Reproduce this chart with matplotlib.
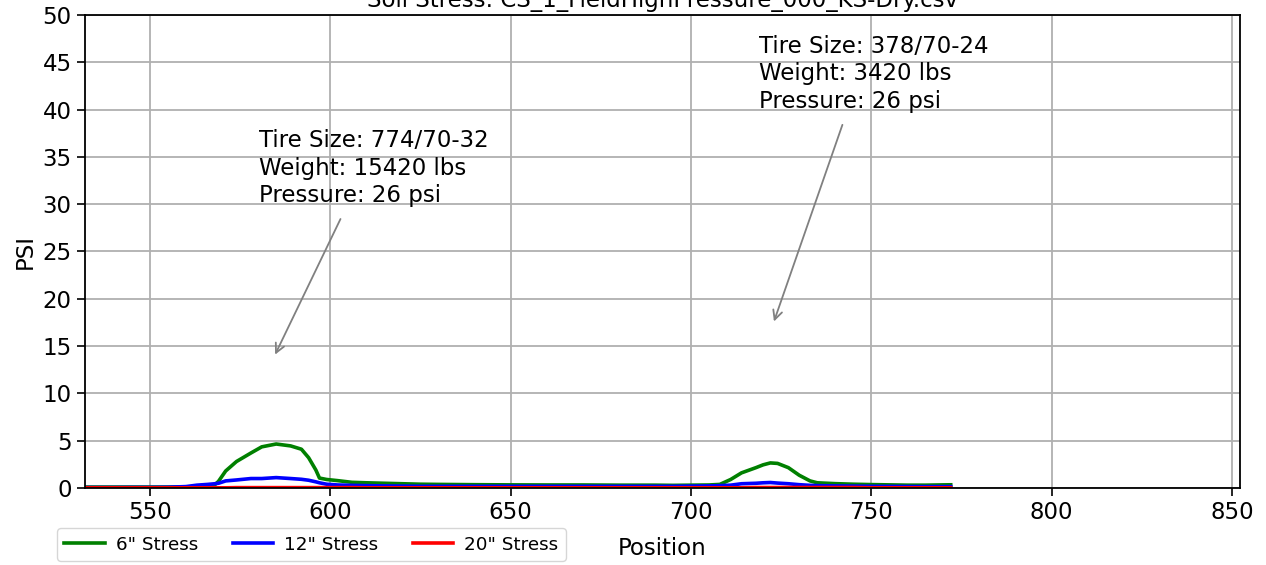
import matplotlib
matplotlib.use("Agg")
import matplotlib.pyplot as plt

title = "Soil Stress: CS_1_FieldHighPressure_000_KS-Dry.csv"

position = [532, 536, 540, 545, 550, 555, 560, 563, 566, 568, 569, 571, 574, 578,
            581, 585, 589, 592, 594, 596, 597, 599, 602, 606, 610, 615, 620, 625,
            630, 640, 650, 660, 670, 680, 690, 695, 700, 705, 708, 711, 714, 718,
            720, 722, 724, 727, 730, 733, 735, 740, 745, 750, 755, 760, 765, 770, 772]

stress_6 = [0.10, 0.10, 0.10, 0.10, 0.10, 0.10, 0.12, 0.15, 0.20, 0.35, 0.70, 1.80, 2.80, 3.70,
            4.35, 4.65, 4.45, 4.10, 3.20, 1.90, 1.05, 0.90, 0.78, 0.60, 0.55, 0.50, 0.45, 0.40,
            0.38, 0.35, 0.33, 0.32, 0.32, 0.30, 0.30, 0.28, 0.30, 0.32, 0.38, 0.90, 1.60, 2.15,
            2.45, 2.65, 2.60, 2.15, 1.35, 0.75, 0.55, 0.46, 0.40, 0.36, 0.33, 0.30, 0.30, 0.33, 0.34]

stress_12 = [0.05, 0.05, 0.05, 0.06, 0.06, 0.08, 0.15, 0.30, 0.38, 0.45, 0.50, 0.75, 0.85, 1.00,
             1.00, 1.10, 1.00, 0.92, 0.82, 0.65, 0.55, 0.40, 0.32, 0.28, 0.25, 0.22, 0.20, 0.18,
             0.18, 0.18, 0.18, 0.18, 0.18, 0.18, 0.18, 0.18, 0.20, 0.22, 0.25, 0.30, 0.45, 0.50,
             0.55, 0.58, 0.52, 0.45, 0.35, 0.28, 0.25, 0.22, 0.20, 0.18, 0.17, 0.16, 0.15, 0.15, 0.15]

stress_20 = [0.02] * 12 + [0.04] * 12 + [0.02] * 17 + [0.05] * 10 + [0.02] * 6

series = [("6\" Stress", stress_6, "green"),
          ("12\" Stress", stress_12, "blue"),
          ("20\" Stress", stress_20, "red")]

annotations = [
    ("Tire Size: 774/70-32\nWeight: 15420 lbs\nPressure: 26 psi", (584.7, 14.1), (580.3, 37.9), 0.46),
    ("Tire Size: 378/70-24\nWeight: 3420 lbs\nPressure: 26 psi", (723.0, 17.6), (718.9, 47.9), 0.44),
]

W, H = 1266, 565
fig = plt.figure(figsize=(W / 100, H / 100), dpi=100)
ax = fig.add_axes([85 / W, 1 - 488 / H, (1240 - 85) / W, (488 - 15) / H])

lines = []
for label, vals, color in series:
    ln, = ax.plot(position, vals, color=color, lw=2.6, label=label)
    lines.append(ln)

ax.set_xlim(532, 852.2)
ax.set_ylim(0, 50)
ax.set_xticks([550, 600, 650, 700, 750, 800, 850])
ax.set_yticks(range(0, 51, 5))
ax.grid(True, color="#b0b0b0", lw=1.3)
ax.set_axisbelow(True)
ax.tick_params(labelsize=16.5, length=6, width=1.2)
for s in ax.spines.values():
    s.set_linewidth(1.3)

ax.set_title(title, fontsize=16.5)
ax.set_ylabel("PSI", fontsize=16.5)
ax.set_xlabel("Position", fontsize=16.5)
ax.xaxis.set_label_coords(0.5, -0.104)

for text, xy, xytext, rx in annotations:
    ax.annotate(text, xy=xy, xytext=xytext, fontsize=16.5, va="top", ha="left",
                linespacing=1.25,
                arrowprops=dict(arrowstyle="->", color="gray", lw=1.3,
                                relpos=(rx, 0.5), shrinkA=7, shrinkB=0))

fig.legend(handles=lines, loc="lower left", ncol=3, fontsize=13.2,
           bbox_to_anchor=(57 / W, 1 - 561 / H), frameon=True,
           handlelength=2.2, handletextpad=0.6, columnspacing=1.9, borderaxespad=0)

fig.savefig("out.png", dpi=100)
